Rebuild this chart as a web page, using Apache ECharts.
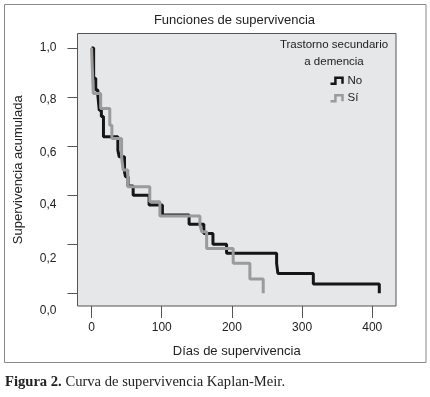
<!DOCTYPE html>
<html>
<head>
<meta charset="utf-8">
<script src="https://cdn.jsdelivr.net/npm/echarts@6/dist/echarts.min.js"></script>
<style>
html, body { margin: 0; padding: 0; background: #fff; }
#chart { width: 430px; height: 397px; }
</style>
</head>
<body>
<div id="chart"></div>
<script>
// Kaplan-Meier: tiempo (dias) y supervivencia acumulada de cada tramo
const diasNo = [0, 3, 6, 9, 11, 14, 17, 37.5, 39.5, 47, 48.5, 52, 59.3, 82, 101, 139, 160, 173, 192.4, 263.7, 265.5, 316, 410];
const survNo = [1.0, 0.876, 0.828, 0.807, 0.746, 0.72, 0.638, 0.583, 0.556, 0.494, 0.475, 0.437, 0.40, 0.36, 0.319, 0.281, 0.244, 0.20, 0.163, 0.122, 0.081, 0.038, 0];
const diasSi = [0, 2.5, 13, 26, 29, 42.8, 45, 51.7, 83, 97.4, 154.4, 157, 164, 201.8, 225.6, 244.6];
const survSi = [1.0, 0.814, 0.753, 0.685, 0.631, 0.556, 0.502, 0.434, 0.373, 0.315, 0.28, 0.251, 0.183, 0.122, 0.058, 0];
const xTicks = [0, 100, 200, 300, 400];
const yTicks = [0, 0.2, 0.4, 0.6, 0.8, 1.0];
const groups = ['No', 'Sí'];

const font = '"Liberation Sans", Arial, sans-serif';
const txt = '#222';

let chartDom = document.getElementById('chart');
let myChart = echarts.init(chartDom, null, { renderer: 'canvas' });

// the y labels drift down a little from their ticks in the original
let yRich = {};
for (let i = 0; i <= 20; i++) {
    yRich['o' + i] = { padding: [2 * i, 0, 0, 0], fontSize: 12, fontFamily: font, color: txt };
}

// little step shape used as legend symbol
const stepIcon = 'path://M0,6 L4.5,6 L4.5,0 L11,0 L11,6';

let series = [
    {
        name: groups[0],
        type: 'line',
        step: 'end',
        symbol: 'none',
        data: diasNo.map((d, i) => [d, survNo[i]]),
        lineStyle: { color: '#161616', width: 3 },
        itemStyle: { color: '#161616' }
    },
    {
        name: groups[1],
        type: 'line',
        step: 'end',
        symbol: 'none',
        data: diasSi.map((d, i) => [d, survSi[i]]),
        lineStyle: { color: '#9b9b9b', width: 3 },
        itemStyle: { color: '#9b9b9b' }
    }
];

const option = {
    backgroundColor: '#fff',
    animation: false,
    grid: {
        show: true,
        left: 77.5,
        top: 33.5,
        right: 34,
        bottom: 91,
        backgroundColor: '#e6e7e9',
        borderColor: '#555',
        borderWidth: 1
    },
    xAxis: {
        type: 'value',
        min: -20,
        max: 433.8,
        name: 'Días de supervivencia',
        nameLocation: 'middle',
        nameGap: 39,
        nameTextStyle: { fontSize: 13, fontFamily: font, color: txt },
        axisLine: { show: false, onZero: false },
        splitLine: { show: false },
        axisTick: { customValues: xTicks, length: 12, lineStyle: { color: '#555' } },
        axisLabel: {
            customValues: xTicks,
            margin: 16,
            fontSize: 12,
            fontFamily: font,
            color: txt
        }
    },
    yAxis: {
        type: 'value',
        min: -0.0517,
        max: 1.0586,
        name: 'Supervivencia acumulada',
        nameLocation: 'middle',
        nameGap: 53,
        nameTextStyle: { fontSize: 13, fontFamily: font, color: txt },
        axisLine: { show: false, onZero: false },
        splitLine: { show: false },
        axisTick: { customValues: yTicks, length: 10, lineStyle: { color: '#555' } },
        axisLabel: {
            customValues: yTicks,
            margin: 21,
            fontSize: 12,
            fontFamily: font,
            color: txt,
            formatter: v => {
                let k = Math.round((1 - v) * 17);
                return '{o' + k + '|' + v.toFixed(1).replace('.', ',') + '}';
            },
            rich: yRich
        }
    },
    legend: {
        orient: 'vertical',
        left: 328,
        top: 73.7,
        padding: 0,
        itemWidth: 12,
        itemHeight: 6,
        itemGap: 3.6,
        symbolKeepAspect: false,
        textStyle: { fontSize: 11.5, fontFamily: font, color: txt, lineHeight: 14 },
        data: [
            { name: groups[0], icon: stepIcon, itemStyle: { color: 'none', borderColor: '#161616', borderWidth: 2.5 } },
            { name: groups[1], icon: stepIcon, itemStyle: { color: 'none', borderColor: '#9b9b9b', borderWidth: 2.5 } }
        ]
    },
    graphic: [
        {
            type: 'rect',
            shape: { x: 4.5, y: 4.5, width: 421.5, height: 358 },
            style: { fill: 'none', stroke: '#8a8a8a', lineWidth: 1 },
            silent: true
        },
        {
            type: 'text',
            x: 234.5,
            y: 20,
            style: {
                text: 'Funciones de supervivencia',
                font: '13px ' + font,
                fill: txt,
                align: 'center',
                verticalAlign: 'middle'
            }
        },
        {
            type: 'text',
            x: 334,
            y: 36.5,
            style: {
                text: 'Trastorno secundario\na demencia',
                font: '11.5px ' + font,
                fill: txt,
                align: 'center',
                verticalAlign: 'top',
                lineHeight: 17
            }
        },
        {
            type: 'text',
            x: 5,
            y: 382,
            style: {
                text: '{b|Figura 2.} Curva de supervivencia Kaplan-Meir.',
                font: '14.6px "Liberation Serif", serif',
                fill: '#222',
                verticalAlign: 'middle',
                rich: {
                    b: { fontWeight: 'bold', fontSize: 14.6, fontFamily: '"Liberation Serif", serif', fill: '#222' }
                }
            }
        }
    ],
    series
};

option && myChart.setOption(option);
</script>
</body>
</html>
